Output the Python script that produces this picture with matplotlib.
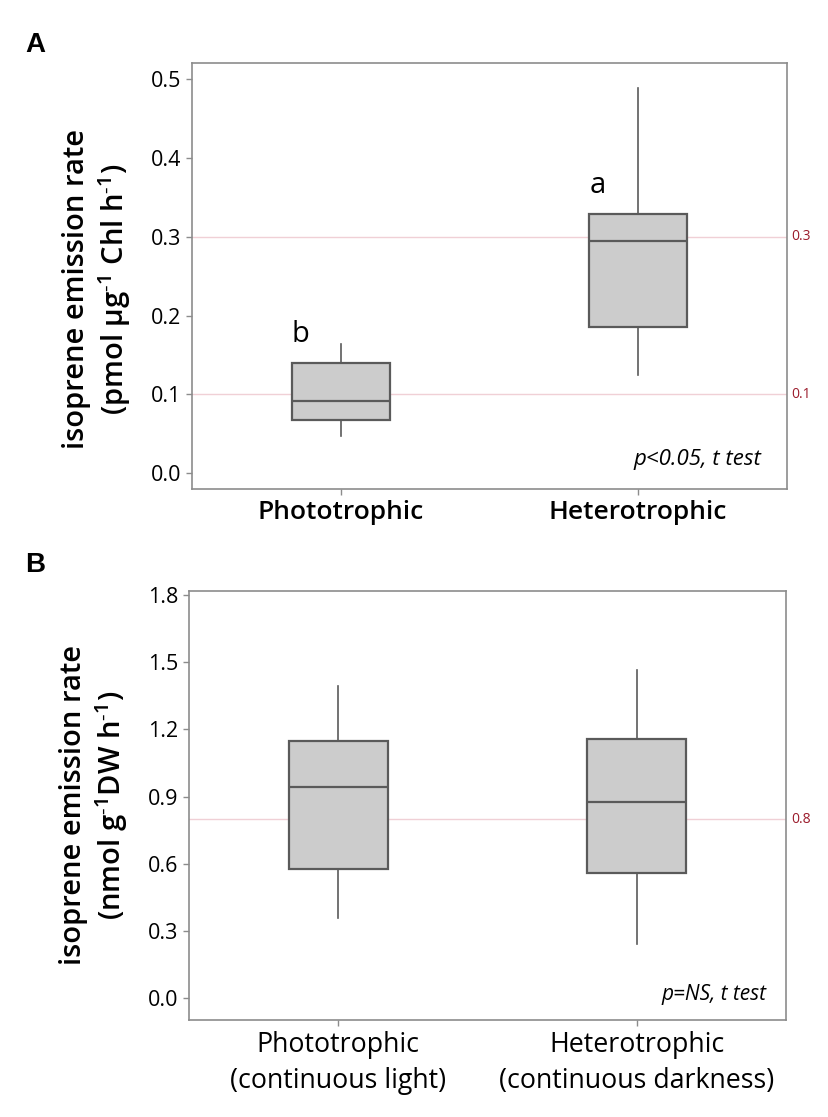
import matplotlib
matplotlib.use('Agg')
from matplotlib import pyplot as plt
from matplotlib import transforms

plt.rcParams['font.family'] = ['Open Sans', 'DejaVu Sans']
plt.rcParams['mathtext.default'] = 'regular'

# panel A data (pmol ug-1 Chl h-1)
groups_a = ['Phototrophic', 'Heterotrophic']
a_whislo = [0.047, 0.1245]
a_q1 = [0.068, 0.185]
a_med = [0.092, 0.295]
a_q3 = [0.140, 0.329]
a_whishi = [0.1635, 0.489]
a_letters = ['b', 'a']
a_ref = [0.3, 0.1]
a_ticks = [0.0, 0.1, 0.2, 0.3, 0.4, 0.5]

# panel B data (nmol g-1 DW h-1)
groups_b = ['Phototrophic\n(continuous light)', 'Heterotrophic\n(continuous darkness)']
b_whislo = [0.357, 0.241]
b_q1 = [0.577, 0.558]
b_med = [0.942, 0.878]
b_q3 = [1.147, 1.158]
b_whishi = [1.394, 1.466]
b_ref = [0.8]
b_ticks = [0.0, 0.3, 0.6, 0.9, 1.2, 1.5, 1.8]

FRAME = '#8c8c8c'
BOXEDGE = '#5a5a5a'
REFLINE = '#f0d0d6'
REFTEXT = '#9b1b2b'


def make_stats(lo, q1, med, q3, hi):
    stats = []
    for i in range(len(med)):
        stats.append({'whislo': lo[i], 'q1': q1[i], 'med': med[i],
                      'q3': q3[i], 'whishi': hi[i], 'fliers': []})
    return stats


def draw_panel(ax, stats, refs, ticks, ylim):
    for r in refs:
        ax.axhline(r, color=REFLINE, lw=1, zorder=0)
        tr = transforms.blended_transform_factory(ax.transAxes, ax.transData)
        ax.text(1.008, r, '{:g}'.format(r), transform=tr, color=REFTEXT,
                fontsize=10, va='center', ha='left')
    ax.bxp(stats, positions=[1, 2], widths=0.33, patch_artist=True,
           showcaps=False, showfliers=False,
           boxprops=dict(facecolor='#cccccc', edgecolor=BOXEDGE, lw=1.6),
           medianprops=dict(color=BOXEDGE, lw=1.6),
           whiskerprops=dict(color=BOXEDGE, lw=1.2))
    ax.set_xlim(0.5, 2.5)
    ax.set_ylim(*ylim)
    ax.set_yticks(ticks)
    ax.set_yticklabels(['{:.1f}'.format(t) for t in ticks])
    for s in ax.spines.values():
        s.set_color(FRAME)
        s.set_linewidth(1.2)
    ax.tick_params(colors=FRAME, length=4, width=1, labelcolor='black', labelsize=15.5)


fig = plt.figure(figsize=(8.29, 11.17), dpi=100)

# ---- panel A
axA = fig.add_axes([0.2316, 0.5619, 0.7174, 0.3819])
draw_panel(axA, make_stats(a_whislo, a_q1, a_med, a_q3, a_whishi), a_ref, a_ticks, (-0.0207, 0.521))
axA.set_xticks([1, 2])
axA.set_xticklabels(groups_a, fontsize=19, fontweight='semibold')
for i, lab in enumerate(a_letters):
    axA.text(i + 1 - 0.137, a_q3[i] + 0.036, lab, fontsize=21, ha='center', va='center')
axA.set_ylabel('isoprene emission rate\n(pmol µg$^{\u20101}$ Chl h$^{\u20101}$)', fontsize=21,
               fontweight='semibold', linespacing=1.18)
axA.yaxis.set_label_coords(-0.099, 0.47)
axA.text(0.958, 0.069, 'p<0.05, t test', transform=axA.transAxes, ha='right', va='center',
         fontsize=16, style='italic')

# ---- panel B
axB = fig.add_axes([0.228, 0.0866, 0.7201, 0.3846])
draw_panel(axB, make_stats(b_whislo, b_q1, b_med, b_q3, b_whishi), b_ref, b_ticks, (-0.098, 1.819))
axB.set_xticks([1, 2])
axB.set_xticklabels(groups_b, fontsize=19.3, linespacing=1.38)
axB.set_ylabel('isoprene emission rate\n(nmol g$^{\u20101}$DW h$^{\u20101}$)', fontsize=21,
               fontweight='semibold', linespacing=1.18)
axB.yaxis.set_label_coords(-0.099, 0.5)
axB.text(0.968, 0.059, 'p=NS, t test', transform=axB.transAxes, ha='right', va='center',
         fontsize=15, style='italic')

fig.text(0.030, 0.960, 'A', fontsize=20, fontweight='bold', family='Liberation Sans', va='center')
fig.text(0.030, 0.494, 'B', fontsize=20, fontweight='bold', family='Liberation Sans', va='center')

fig.savefig('out.png', dpi=100)
